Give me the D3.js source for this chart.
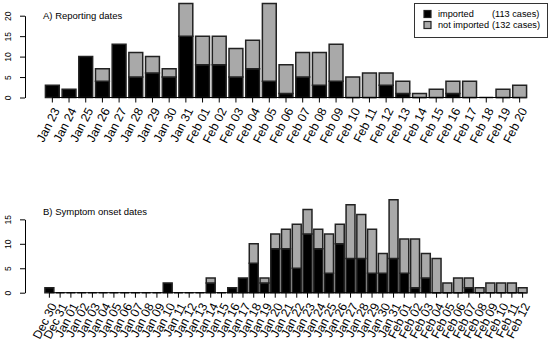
<!DOCTYPE html>
<meta charset="utf-8" />
<style>
  body { margin: 0; background: #fff; }
  text { font-family: "Liberation Sans", Arial, sans-serif; }
  .bar { stroke: #222; stroke-width: 1.5px; }
</style>
<body>
<div id="chart"></div>
<script src="https://d3js.org/d3.v7.min.js"></script>
<script>
  // panel A: reporting dates
  var datesA = ["Jan 23", "Jan 24", "Jan 25", "Jan 26", "Jan 27", "Jan 28", "Jan 29", "Jan 30", "Jan 31",
    "Feb 01", "Feb 02", "Feb 03", "Feb 04", "Feb 05", "Feb 06", "Feb 07", "Feb 08", "Feb 09", "Feb 10",
    "Feb 11", "Feb 12", "Feb 13", "Feb 14", "Feb 15", "Feb 16", "Feb 17", "Feb 18", "Feb 19", "Feb 20"];
  var importedA = [3, 2, 10, 4, 13, 5, 6, 5, 15, 8, 8, 5, 7, 4, 1, 5, 3, 4, 0, 0, 3, 1, 0, 0, 1, 0, 0, 0, 0];
  var notImportedA = [0, 0, 0, 3, 0, 6, 4, 2, 8, 7, 7, 7, 7, 19, 7, 6, 8, 9, 5, 6, 3, 3, 1, 2, 3, 4, 0, 2, 3];
  var ticksA = [0, 5, 10, 15, 20];

  // panel B: symptom onset dates
  var datesB = ["Dec 30", "Dec 31", "Jan 01", "Jan 02", "Jan 03", "Jan 04", "Jan 05", "Jan 06", "Jan 07",
    "Jan 08", "Jan 09", "Jan 10", "Jan 11", "Jan 12", "Jan 13", "Jan 14", "Jan 15", "Jan 16", "Jan 17",
    "Jan 18", "Jan 19", "Jan 20", "Jan 21", "Jan 22", "Jan 23", "Jan 24", "Jan 25", "Jan 26", "Jan 27",
    "Jan 28", "Jan 29", "Jan 30", "Jan 31", "Feb 01", "Feb 02", "Feb 03", "Feb 04", "Feb 05", "Feb 06",
    "Feb 07", "Feb 08", "Feb 09", "Feb 10", "Feb 11", "Feb 12"];
  var importedB = [1, 0, 0, 0, 0, 0, 0, 0, 0, 0, 0, 2, 0, 0, 0, 2, 0, 1, 3, 6, 2,
    9, 9, 5, 12, 9, 4, 10, 7, 7, 4, 4, 7, 4, 1, 3, 0, 0, 0, 1, 0, 0, 0, 0, 0];
  var notImportedB = [0, 0, 0, 0, 0, 0, 0, 0, 0, 0, 0, 0, 0, 0, 0, 1, 0, 0, 0, 4, 1,
    3, 4, 9, 5, 4, 8, 4, 11, 9, 9, 4, 12, 7, 10, 5, 7, 2, 3, 2, 1, 2, 2, 2, 1];
  var ticksB = [0, 5, 10, 15];

  var legendLabels = ["imported", "not imported"];
  var legendCounts = ["(113 cases)", "(132 cases)"];
  var colors = ["#000000", "#a9a9a9"];

  var width = 550, height = 351;
  var svg = d3.select("#chart").append("svg")
    .attr("width", width)
    .attr("height", height);

  function panel(cfg) {
    var x = d3.scaleBand()
      .domain(cfg.dates)
      .range([44, 528])
      .paddingInner(0.17)
      .paddingOuter(0.085);
    var y = d3.scaleLinear()
      .domain([0, cfg.yTop])
      .range([cfg.y0, cfg.y0 - cfg.yTop * cfg.ppu]);

    var g = svg.append("g");

    // stacked bars, drawn as paths so zero-height ones still show their border
    cfg.dates.forEach(function (d, i) {
      var a = cfg.imported[i], b = cfg.notImported[i];
      var segs = [[0, a, colors[0]], [a, a + b, colors[1]]];
      segs.forEach(function (s, k) {
        if (k == 1 && b == 0) return;
        var x0 = x(d), w = x.bandwidth();
        var yb = y(s[0]), yt = y(s[1]);
        g.append("path")
          .attr("class", "bar")
          .attr("fill", s[2])
          .attr("d", "M" + x0 + "," + yb + "H" + (x0 + w) + "V" + yt + "H" + x0 + "Z");
      });
    });

    // y axis (line only from first to last tick, like R)
    var yAxisScale = y.copy().domain([0, cfg.ticks[cfg.ticks.length - 1]])
      .range([y(0), y(cfg.ticks[cfg.ticks.length - 1])]);
    var ya = g.append("g")
      .attr("transform", "translate(25,0)")
      .call(d3.axisLeft(yAxisScale).tickValues(cfg.ticks).tickSize(5).tickSizeOuter(0));
    ya.select(".domain").attr("stroke", "#000");
    ya.selectAll(".tick line").attr("stroke", "#000");
    ya.selectAll(".tick text")
      .attr("x", 0).attr("dy", 0)
      .attr("transform", "translate(-14,0) rotate(-90)")
      .attr("text-anchor", "middle")
      .style("font-size", "8.5px")
      .style("font-family", "Liberation Sans, Arial, sans-serif")
      .attr("fill", "#000");

    // x axis
    var xa = g.append("g")
      .attr("transform", "translate(0," + y(0) + ")")
      .call(d3.axisBottom(x).tickSize(5).tickSizeOuter(0));
    xa.select(".domain").remove();
    xa.append("line")
      .attr("x1", x(cfg.dates[0]) + x.bandwidth() / 2)
      .attr("x2", x(cfg.dates[cfg.dates.length - 1]) + x.bandwidth() / 2)
      .attr("stroke", "#000");
    xa.selectAll(".tick line").attr("stroke", "#000");
    xa.selectAll(".tick text")
      .attr("y", 0).attr("dy", "0.35em")
      .attr("transform", "translate(4,11) rotate(-63)")
      .attr("text-anchor", "end")
      .style("font-size", "12.2px")
      .style("font-family", "Liberation Sans, Arial, sans-serif")
      .attr("fill", "#000");

    // panel title
    g.append("text")
      .attr("x", 43)
      .attr("y", cfg.titleY)
      .style("font-size", "9.5px")
      .text(cfg.title);
  }

  panel({
    dates: datesA, imported: importedA, notImported: notImportedA, ticks: ticksA,
    y0: 97.5, ppu: 4.09, yTop: 23, title: "A) Reporting dates", titleY: 18.5
  });
  panel({
    dates: datesB, imported: importedB, notImported: notImportedB, ticks: ticksB,
    y0: 292.7, ppu: 4.89, yTop: 19, title: "B) Symptom onset dates", titleY: 214.5
  });

  // legend
  var lg = svg.append("g");
  lg.append("rect")
    .attr("x", 414.5).attr("y", 3.5)
    .attr("width", 133).attr("height", 34)
    .attr("fill", "#fff").attr("stroke", "#333");
  legendLabels.forEach(function (l, i) {
    var cy = 14 + i * 11;
    lg.append("rect")
      .attr("x", 424).attr("y", cy - 3.5)
      .attr("width", 7).attr("height", 7)
      .attr("fill", colors[i]).attr("stroke", "#222").attr("stroke-width", 1.2);
    lg.append("text")
      .attr("x", 438).attr("y", cy + 3.3)
      .style("font-size", "9.2px")
      .text(l);
    lg.append("text")
      .attr("x", 492).attr("y", cy + 3.3)
      .style("font-size", "9.2px")
      .text(legendCounts[i]);
  });
</script>
</body>
